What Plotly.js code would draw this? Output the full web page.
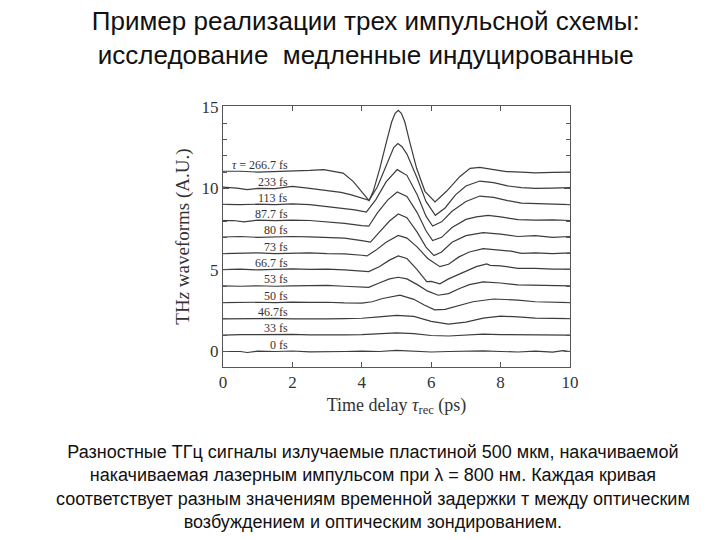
<!DOCTYPE html>
<html>
<head>
<meta charset="utf-8">
<script src="https://cdn.plot.ly/plotly-3.0.1.min.js"></script>
<style>html,body{margin:0;padding:0;background:#fff;}</style>
</head>
<body>
<div id="chart" style="width:720px;height:540px;"></div>
<script>
// ---- data ----
const labels = ["0 fs","33 fs","46.7fs","50 fs","53 fs","66.7 fs","73 fs","80 fs","87.7 fs","113 fs","233 fs","<i>τ</i> = 266.7 fs"];
const labelOffsets = [0,1,2,3,4,5,6,7,8,9,10,11];

const x0  = [0,0.5,0.7,1,1.5,2,2.5,3,3.5,4,4.5,5,5.5,6,6.5,7,7.5,8,8.5,9,9.5,9.8,10];
const y0  = [0.0,0.0,-0.06,0.02,0.0,0.03,-0.02,0.01,0.0,0.02,0.0,0.07,0.03,-0.03,0.0,0.02,0.04,0.0,-0.03,0.02,-0.04,0.05,0.0];

const x1  = [0,0.5,1,1.5,2,2.5,3,3.5,4,4.5,5,5.5,6,6.5,7,7.5,8,8.5,9,9.5,10];
const y1  = [1.0,1.04,1.03,1.06,1.05,1.02,1.04,1.02,1.03,1.08,1.14,1.1,0.98,0.95,1.0,1.06,1.04,1.03,1.0,1.02,1.01];

const x2  = [0,0.5,1,1.5,2,2.5,3,3.5,4,4.5,5,5.5,6,6.5,7,7.5,8,8.5,9,9.5,10];
const y2  = [2.0,2.02,2.01,2.03,2.0,2.02,2.0,2.01,2.04,2.12,2.22,2.15,1.85,1.68,1.8,2.05,2.17,2.12,2.05,2.03,2.02];

const x3  = [0,0.5,1,1.5,2,2.5,3,3.5,4,4.3,4.6,5.1,5.5,5.8,6.1,6.4,6.8,7.2,7.8,8.5,9,9.5,10];
const y3  = [3.0,3.03,3.02,3.0,3.03,3.01,3.02,2.98,2.97,3.05,3.25,3.45,3.2,2.85,2.55,2.58,2.8,3.05,3.22,3.15,3.05,3.02,3.0];

const x4  = [0,0.5,1,1.5,2,2.5,3,3.5,4,4.2,4.5,4.8,5.05,5.3,5.6,5.9,6.2,6.5,6.8,7.1,7.5,8,8.5,9,9.5,10];
const y4  = [4.02,4.0,4.03,4.0,4.02,4.04,4.05,4.0,3.97,3.93,4.2,4.45,4.55,4.45,4.1,3.7,3.45,3.55,3.85,4.1,4.27,4.2,4.08,4.05,4.03,4.02];

const x5  = [0,0.5,1,1.5,2,2.5,3,3.5,4,4.2,4.5,4.8,5.05,5.3,5.6,5.87,6.0,6.25,6.5,6.9,7.3,7.6,7.7,8,8.5,9,9.5,10];
const y5  = [5.02,5.05,5.0,5.04,5.06,5.03,5.05,5.0,4.95,4.9,5.2,5.6,5.86,5.7,5.0,4.28,4.3,4.15,4.45,4.85,5.2,5.37,5.28,5.25,5.1,5.1,5.05,5.05];

const x6  = [0,0.5,1,1.5,2,2.5,3,3.5,4,4.15,4.4,4.7,5.05,5.3,5.6,5.9,6.25,6.5,6.8,7.1,7.5,8,8.3,8.6,9,9.5,10];
const y6  = [6.0,6.02,6.05,6.0,6.03,6.05,6.0,5.98,5.9,5.86,6.2,6.7,7.12,6.95,6.4,5.7,5.2,5.35,5.8,6.1,6.31,6.2,6.15,6.02,6.05,6.0,6.05];

const x7  = [0,0.5,1,1.5,2,2.5,3,3.5,4,4.25,4.5,4.8,5.05,5.3,5.6,5.85,6.08,6.3,6.6,7.0,7.5,8,8.5,9,9.5,10];
const y7  = [7.02,7.05,7.0,7.03,7.05,7.03,7.0,6.95,6.8,6.7,7.3,8.0,8.43,8.2,7.3,6.4,5.88,6.1,6.7,7.1,7.29,7.2,7.05,7.1,7.0,7.05];

const x8  = [0,0.3,0.6,1,1.5,2,2.5,3,3.5,4,4.2,4.45,4.75,5.02,5.3,5.6,5.85,6.04,6.3,6.6,7.0,7.3,7.64,8,8.5,9,9.5,10];
const y8  = [8.02,8.03,7.95,8.05,8.02,8.05,8.03,7.95,7.85,7.72,7.68,8.5,9.3,9.78,9.5,8.5,7.4,6.8,7.0,7.6,8.1,8.25,8.35,8.25,8.08,8.05,8.07,8.03];

const x9  = [0,0.5,1,1.5,2,2.5,3,3.5,3.8,4.13,4.4,4.7,5.02,5.3,5.6,5.85,6.04,6.3,6.6,7.0,7.4,7.8,8.2,8.6,9,9.5,10];
const y9  = [9.02,9.0,9.03,9.0,9.05,9.0,8.88,8.78,8.68,8.55,9.3,10.4,11.15,10.8,9.6,8.3,7.69,7.95,8.6,9.2,9.53,9.45,9.25,9.1,9.08,9.03,9.0];

const x10 = [0,0.4,0.7,1,1.5,2,2.5,3,3.4,3.7,4.0,4.21,4.45,4.75,4.92,5.04,5.16,5.3,5.6,5.85,6.12,6.4,6.7,7.0,7.4,7.8,8.2,8.6,9,9.5,10];
const y10 = [10.08,10.02,9.92,10.0,9.98,10.12,10.0,9.88,9.75,9.6,9.4,9.27,10.1,11.6,12.5,12.75,12.55,12.1,10.6,9.2,8.35,8.8,9.6,10.15,10.45,10.35,10.15,10.05,10.0,10.02,10.05];

const x11 = [0,0.5,1,1.5,2,2.5,2.9,3.2,3.46,3.75,3.99,4.21,4.33,4.52,4.71,4.86,4.96,5.05,5.14,5.24,5.38,5.58,5.82,6.11,6.44,6.83,7.12,7.4,7.8,8.17,8.6,9,9.5,10];
const y11 = [11.05,11.05,11.0,11.02,11.05,11.1,11.15,11.05,10.94,10.43,9.82,9.25,9.82,11.23,12.85,14.07,14.6,14.78,14.6,14.07,12.85,11.23,9.82,9.17,9.82,10.73,11.23,11.29,11.15,11.03,11.0,10.95,10.98,11.0];

const xs = [x0,x1,x2,x3,x4,x5,x6,x7,x8,x9,x10,x11];
const ys = [y0,y1,y2,y3,y4,y5,y6,y7,y8,y9,y10,y11];

const titleText = "Пример реализации трех импульсной схемы:<br>исследование  медленные индуцированные";
const captionText = "Разностные ТГц сигналы излучаемые пластиной 500 мкм, накачиваемой<br>" +
  "накачиваемая лазерным импульсом при λ = 800 нм. Каждая кривая<br>" +
  "соответствует разным значениям временной задержки т между оптическим<br>" +
  "возбуждением и оптическим зондированием.";

// ---- drawing ----
const serif = "Liberation Serif, DejaVu Serif, serif";
const sans = "Liberation Sans, Arial, sans-serif";

const traces = xs.map((xv, i) => ({
  x: xv, y: ys[i], type: "scatter", mode: "lines",
  line: {color: "#3c3c3c", width: 1.2},
  hoverinfo: "skip", showlegend: false
}));

const annotations = labels.map((t, i) => ({
  x: 1.93, y: labelOffsets[i] + 0.42, xref: "x", yref: "y",
  text: t, showarrow: false, xanchor: "right", yanchor: "middle",
  font: {family: serif, size: 12, color: "#333"}
}));

annotations.push({
  x: 0.432, y: -0.28, xref: "paper", yref: "paper",
  xanchor: "center", yanchor: "top", align: "center",
  text: captionText, showarrow: false,
  font: {family: sans, size: 18, color: "#111"}
});

const layout = {
  width: 720, height: 540,
  margin: {l: 223, r: 150, t: 106, b: 173},
  paper_bgcolor: "#fff", plot_bgcolor: "#fff",
  title: {
    text: titleText, x: 0.508, xref: "container", xanchor: "center",
    y: 0.944, yref: "container", yanchor: "top",
    font: {family: sans, size: 26, color: "#111"}
  },
  xaxis: {
    range: [0, 10], dtick: 2, tick0: 0,
    ticks: "inside", ticklen: 5, tickcolor: "#555",
    mirror: "ticks", showline: true, linecolor: "#555", linewidth: 1,
    showgrid: false, zeroline: false,
    tickfont: {family: serif, size: 17, color: "#333"},
    title: {text: "Time delay <i>τ</i><sub>rec</sub> (ps)", standoff: 6,
            font: {family: serif, size: 18, color: "#333"}}
  },
  yaxis: {
    range: [-0.95, 15.05], tickvals: [0, 5, 10, 15],
    ticks: "inside", ticklen: 6, tickcolor: "#555",
    minor: {dtick: 1, tick0: 0, ticks: "inside", ticklen: 4, tickcolor: "#555"},
    mirror: "ticks", showline: true, linecolor: "#555", linewidth: 1,
    showgrid: false, zeroline: false,
    tickfont: {family: serif, size: 17, color: "#333"},
    title: {text: "TH<i>z</i> waveforms (A.U.)", standoff: 6,
            font: {family: serif, size: 19, color: "#333"}}
  },
  annotations: annotations
};

Plotly.newPlot("chart", traces, layout, {displayModeBar: false, staticPlot: true});
</script>
</body>
</html>
